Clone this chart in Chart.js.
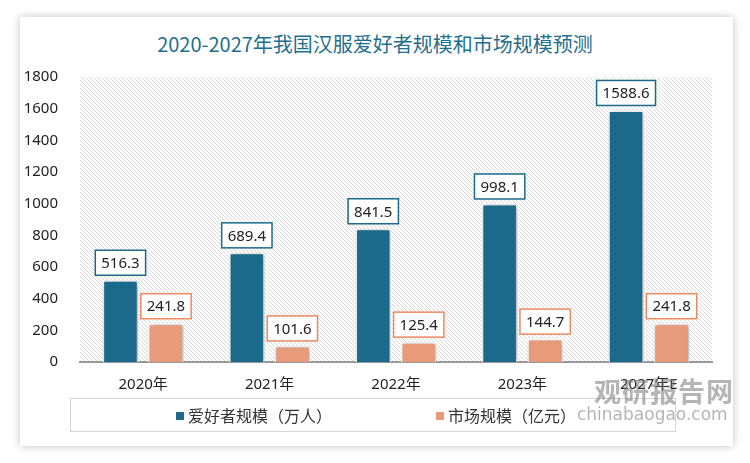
<!DOCTYPE html>
<html>
<head>
<meta charset="utf-8">
<script src="https://cdn.jsdelivr.net/npm/chart.js@4.4.1/dist/chart.umd.min.js"></script>
<style>
  body { margin: 0; background: #fff; font-family: "Noto Sans", "Noto Sans CJK SC", sans-serif; }
  #wrap { position: relative; width: 750px; height: 463px; overflow: hidden; }
  #card { position: absolute; left: 20px; top: 17px; width: 713px; height: 429px; background: #fff;
          box-shadow: 0 0 8px rgba(0,0,0,0.25); }
  #title { position: absolute; left: 0; top: 30px; width: 750px; text-align: center;
           font-family: "Noto Sans CJK SC", sans-serif; font-size: 20px; color: #1f6f8f; line-height: 28px; }
  #chart { position: absolute; left: 0; top: 0; }
  #legend { position: absolute; left: 70px; top: 398px; width: 604px; height: 32px; border: 1px solid #d4d4d4;
            font-family: "Noto Sans CJK SC", sans-serif; font-size: 16px; color: #333; }
  .item { position: absolute; top: 4px; line-height: 24px; }
  .sw { display: inline-block; width: 8px; height: 8px; margin-right: 4px; vertical-align: 2px; }
  #wm1 { position: absolute; left: 594px; top: 371px; font-family: "Noto Sans CJK SC", sans-serif; font-weight: 700;
         font-size: 27px; color: rgba(120,120,120,0.55); letter-spacing: 1px; }
  #wm2 { position: absolute; left: 577px; top: 404px; font-family: "DejaVu Sans", sans-serif;
         font-size: 17px; color: rgba(120,120,120,0.55); }
</style>
</head>
<body>
<div id="wrap">
  <div id="card"></div>
  <div id="title">2020-2027年我国汉服爱好者规模和市场规模预测</div>
  <canvas id="chart" width="750" height="463"></canvas>
  <div id="legend"></div>
  <div id="wm1">观研报告网</div>
  <div id="wm2">chinabaogao.com</div>
</div>
<script>
const years = ["2020年", "2021年", "2022年", "2023年", "2027年E"];
const fans = [516.3, 689.4, 841.5, 998.1, 1588.6];
const market = [241.8, 101.6, 125.4, 144.7, 241.8];
const seriesNames = ["爱好者规模（万人）", "市场规模（亿元）"];
const yTicks = [0, 200, 400, 600, 800, 1000, 1200, 1400, 1600, 1800];

const colorBlue = "#1b6a8c";
const colorOrange = "#e89b7b";
const borderOrange = "#ec8a62";

// hatched plot background
function hatchPattern(ctx) {
  const c = document.createElement("canvas");
  c.width = 4; c.height = 4;
  const p = c.getContext("2d");
  p.fillStyle = "#fff";
  p.fillRect(0, 0, 4, 4);
  p.strokeStyle = "#d9d9d9";
  p.lineWidth = 1;
  p.beginPath();
  p.moveTo(-1, -1); p.lineTo(5, 5);
  p.moveTo(-1, 3); p.lineTo(1, 5);
  p.moveTo(3, -1); p.lineTo(5, 1);
  p.stroke();
  return ctx.createPattern(c, "repeat");
}

const hatchBg = {
  id: "hatchBg",
  beforeDraw(chart) {
    const { ctx, chartArea: a } = chart;
    ctx.save();
    ctx.fillStyle = hatchPattern(ctx);
    ctx.fillRect(a.left, a.top, a.right - a.left, a.bottom - a.top);
    ctx.restore();
  },
};

const barShadow = {
  id: "barShadow",
  beforeDatasetsDraw(chart) {
    const ctx = chart.ctx;
    ctx.save();
    ctx.shadowColor = "rgba(0,0,0,0.4)";
    ctx.shadowBlur = 5;
    ctx.shadowOffsetX = 1;
    ctx.shadowOffsetY = 1;
  },
  afterDatasetsDraw(chart) {
    chart.ctx.restore();
  },
};

// boxed value labels above bars
const boxLabels = {
  id: "boxLabels",
  afterDatasetsDraw(chart) {
    const ctx = chart.ctx;
    ctx.save();
    ctx.font = "15px 'Noto Sans', sans-serif";
    ctx.textAlign = "center";
    ctx.textBaseline = "middle";
    chart.data.datasets.forEach((ds, i) => {
      const meta = chart.getDatasetMeta(i);
      meta.data.forEach((bar, j) => {
        const txt = ds.data[j].toFixed(1);
        const w = ctx.measureText(txt).width + 12;
        const h = 25;
        const x = bar.x - w / 2;
        const y = bar.y - 5 - h;
        ctx.fillStyle = "#fff";
        ctx.fillRect(x, y, w, h);
        ctx.strokeStyle = i === 0 ? colorBlue : borderOrange;
        ctx.lineWidth = 1.5;
        ctx.strokeRect(x, y, w, h);
        ctx.fillStyle = "#222";
        ctx.fillText(txt, bar.x, y + h / 2 + 1);
      });
    });
    ctx.restore();
  },
};

new Chart(document.getElementById("chart"), {
  type: "bar",
  data: {
    labels: years,
    datasets: [
      { label: seriesNames[0], data: fans, backgroundColor: colorBlue, borderColor: "#fff", borderWidth: 1.5 },
      { label: seriesNames[1], data: market, backgroundColor: colorOrange, borderColor: "#fff", borderWidth: 1.5 },
    ],
  },
  options: {
    responsive: false,
    animation: false,
    categoryPercentage: 0.72,
    barPercentage: 0.78,
    layout: { padding: { left: 20, right: 38, top: 77, bottom: 71 } },
    plugins: { legend: { display: false }, tooltip: { enabled: false } },
    scales: {
      x: {
        grid: { display: false },
        border: { color: "#999", width: 2 },
        ticks: { color: "#222", font: { size: 15, family: "'Noto Sans', 'Noto Sans CJK SC'" }, padding: 6 },
        afterFit: (s) => { s.height = 30; },
      },
      y: {
        min: 0,
        max: 1800,
        afterBuildTicks: (s) => { s.ticks = yTicks.map((v) => ({ value: v })); },
        grid: { display: false },
        border: { display: false },
        ticks: { color: "#222", font: { size: 15, family: "'Noto Sans'" }, padding: 14, callback: (v) => String(v) },
        afterFit: (s) => { s.width = 60; },
      },
    },
  },
  plugins: [hatchBg, barShadow, boxLabels],
});

// legend
const legend = document.getElementById("legend");
const legendX = [105, 365];
[colorBlue, colorOrange].forEach((c, i) => {
  const d = document.createElement("div");
  d.className = "item";
  d.style.left = legendX[i] + "px";
  d.innerHTML = '<span class="sw" style="background:' + c + '"></span>' + seriesNames[i];
  legend.appendChild(d);
});
</script>
</body>
</html>
